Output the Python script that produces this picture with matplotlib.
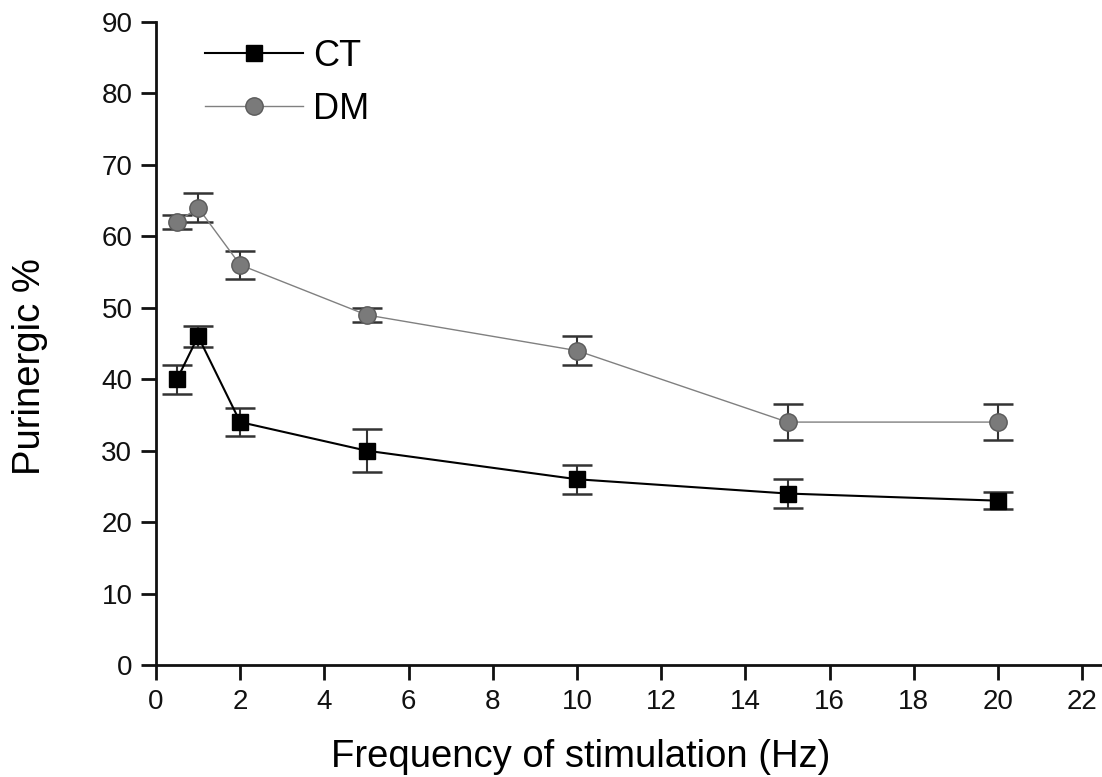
import matplotlib
matplotlib.use("Agg")
import matplotlib.pyplot as plt

plt.rcParams['font.family'] = ['Liberation Sans', 'DejaVu Sans']

# frequency of stimulation (Hz)
freq = [0.5, 1, 2, 5, 10, 15, 20]

# control group
ct_mean = [40, 46, 34, 30, 26, 24, 23]
ct_err = [2, 1.5, 2, 3, 2, 2, 1.2]

# diabetic group
dm_mean = [62, 64, 56, 49, 44, 34, 34]
dm_err = [1, 2, 2, 1, 2, 2.5, 2.5]

W, H = 1102, 777
fig = plt.figure(figsize=(W / 100, H / 100), dpi=100)
ax = fig.add_axes([156 / W, 1 - 665 / H, 1 - 156 / W, (665 - 22) / H])

ax.errorbar(freq, ct_mean, yerr=ct_err, color='black', lw=1.5,
            marker='s', markersize=11.5, markerfacecolor='black',
            ecolor='#333333', elinewidth=1.5, capsize=10.5, capthick=1.8,
            label='CT', zorder=3)
ax.errorbar(freq, dm_mean, yerr=dm_err, color='#808080', lw=1.0,
            marker='o', markersize=12.5, markerfacecolor='#7a7a7a',
            markeredgecolor='#5a5a5a',
            ecolor='#333333', elinewidth=1.5, capsize=10.5, capthick=1.8,
            label='DM', zorder=3)

ax.set_xlim(0, 22.47)
ax.set_ylim(0, 90)
ax.set_xticks(range(0, 23, 2))
ax.set_yticks(range(0, 91, 10))

for side in ['top', 'right']:
    ax.spines[side].set_visible(False)
for side in ['left', 'bottom']:
    ax.spines[side].set_linewidth(2)
    ax.spines[side].set_color('#111111')

ax.tick_params(axis='both', direction='out', length=11, width=2,
               labelsize=20, colors='#111111', pad=6)

ax.set_xlabel("Frequency of stimulation (Hz)", fontsize=27.5)
ax.xaxis.set_label_coords((581 - 156) / 946, -(767 - 665) / 643)
ax.xaxis.label.set_va('baseline')
ax.set_ylabel("Purinergic %", fontsize=27.5)
ax.yaxis.set_label_coords(-(156 - 30) / 946, (665 - 367) / 643)
ax.yaxis.label.set_va('center')

# legend uses plain handles without error bars
handles, labels = ax.get_legend_handles_labels()
handles = [h[0] for h in handles]
ax.legend(handles, labels, loc='upper left',
          bbox_to_anchor=(205 / W, 1 - 39 / H), bbox_transform=fig.transFigure,
          frameon=False, fontsize=26, handlelength=2.7, handletextpad=0.3,
          labelspacing=0.5, borderpad=0, borderaxespad=0)

fig.savefig("out.png", dpi=100)
